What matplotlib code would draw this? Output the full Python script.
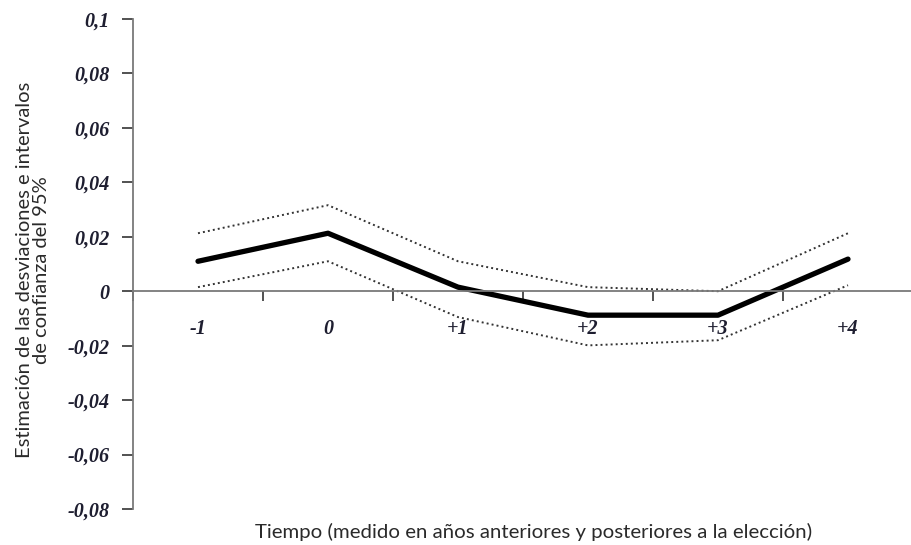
import matplotlib
matplotlib.use("Agg")
import matplotlib.pyplot as plt
from matplotlib.ticker import FixedLocator, FixedFormatter

# Period relative to the election and estimated deviations with 95% bounds
periods = ["-1", "0", "+1", "+2", "+3", "+4"]
estimate = [0.011, 0.0213, 0.0015, -0.0088, -0.0088, 0.0118]
upper_ci = [0.0213, 0.0316, 0.011, 0.0015, 0.0, 0.0213]
lower_ci = [0.0015, 0.011, -0.0095, -0.0199, -0.018, 0.0022]

y_ticks = [0.1, 0.08, 0.06, 0.04, 0.02, 0, -0.02, -0.04, -0.06, -0.08]
y_tick_labels = ["0,1", "0,08", "0,06", "0,04", "0,02", "0",
                 "-0,02", "-0,04", "-0,06", "-0,08"]

W, H = 911, 545
fig = plt.figure(figsize=(W / 100, H / 100), dpi=100)
ax = fig.add_axes([133 / W, 1 - 509 / H, (W - 133) / W, (509 - 19) / H])

x = list(range(len(periods)))
ax.plot(x, estimate, color="black", lw=3.8, solid_capstyle="round",
        solid_joinstyle="round")
ax.plot(x, upper_ci, color="#333333", lw=1.4, linestyle=(0, (1, 1.6)))
ax.plot(x, lower_ci, color="#333333", lw=1.4, linestyle=(0, (1, 1.6)))

ax.set_xlim(-0.5, -0.5 + (W - 133) / 130)
ax.set_ylim(-0.08, 0.1)

axis_col = "#7a7a7a"
for s in ["top", "right"]:
    ax.spines[s].set_visible(False)
ax.spines["left"].set_color(axis_col)
ax.spines["left"].set_linewidth(1.3)
ax.spines["bottom"].set_position(("data", 0))
ax.spines["bottom"].set_color(axis_col)
ax.spines["bottom"].set_linewidth(1.3)

# Category boundaries carry tick marks; category centres carry the labels
bounds = [i - 0.5 for i in range(len(periods))]
ax.xaxis.set_major_locator(FixedLocator(bounds))
ax.xaxis.set_major_formatter(FixedFormatter([""] * len(bounds)))
ax.tick_params(axis="x", which="major", direction="out", length=7,
               width=1.2, color="#333333")
ax.xaxis.set_minor_locator(FixedLocator(x))
ax.xaxis.set_minor_formatter(FixedFormatter(periods))
ax.tick_params(axis="x", which="minor", length=0, pad=20)

ax.set_yticks(y_ticks)
ax.set_yticklabels(y_tick_labels)
ax.tick_params(axis="y", direction="out", length=8, width=1.2,
               color="#333333", pad=9)

for t in ax.get_yticklabels() + ax.get_xticklabels(minor=True):
    t.set_fontfamily("Liberation Serif")
    t.set_fontstyle("italic")
    t.set_fontweight("bold")
    t.set_fontsize(14.5)
    t.set_color("#1e1e30")

fig.text(534 / W, 1 - 532 / H,
         "Tiempo (medido en años anteriores y posteriores a la elección)",
         ha="center", va="center", fontsize=14.7, family="Lato",
         color="#2a2a2a")
fig.text(33 / W, 1 - 270 / H,
         "Estimación de las desviaciones e intervalos\nde confianza del 95%",
         ha="center", va="center", rotation=90, fontsize=14.5,
         family="Lato", color="#2a2a2a", linespacing=1.0)

fig.savefig("out.png", dpi=100)
